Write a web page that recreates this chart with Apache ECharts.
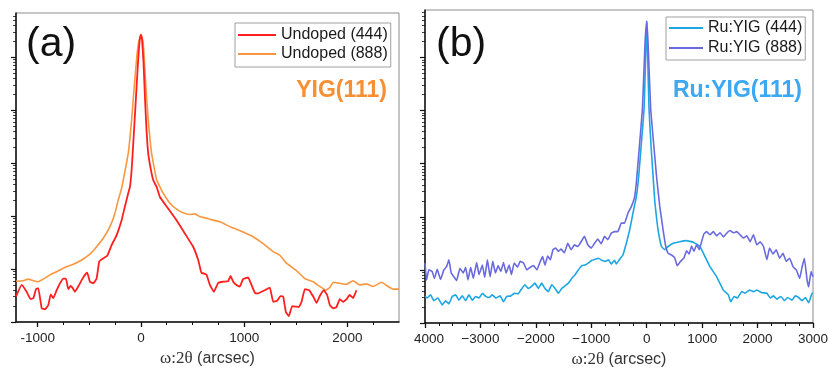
<!DOCTYPE html>
<html>
<head>
<meta charset="utf-8">
<script src="https://cdn.jsdelivr.net/npm/echarts@6/dist/echarts.min.js"></script>
<style>
  html, body { margin: 0; padding: 0; background: #fff; }
  #wrap { position: relative; width: 828px; height: 369px; }
  .panel { position: absolute; top: 0; width: 414px; height: 369px; overflow: hidden; }
  #panelA { left: 0; }
  #panelB { left: 414px; }
</style>
</head>
<body>
<div id="wrap">
  <div id="panelA" class="panel"></div>
  <div id="panelB" class="panel"></div>
</div>
<script>
// ω:2θ scans, intensity stored as log10(counts): [arcsec, log10 I]
const undoped444 = [[-1210,0.48],[-1155,0.70],[-1107,0.57],[-1068,0.43],[-1042,0.45],[-1016,0.62],[-994,0.64],[-961,0.26],[-929,0.24],[-897,0.32],[-874,0.52],[-849,0.45],[-816,0.60],[-784,0.73],[-752,0.82],[-726,0.82],[-704,0.62],[-681,0.68],[-661,0.64],[-639,0.57],[-607,0.67],[-574,0.79],[-542,0.89],[-520,0.93],[-494,0.76],[-462,0.73],[-429,0.82],[-404,1.14],[-365,1.20],[-326,1.25],[-284,1.45],[-235,1.64],[-187,1.92],[-155,2.18],[-123,2.43],[-106,2.55],[-90,2.87],[-80,3.18],[-58,3.90],[-42,4.44],[-25,5.00],[-10,5.35],[0,5.42],[10,5.35],[25,4.90],[40,4.20],[55,3.60],[71,3.18],[97,2.87],[119,2.68],[152,2.55],[184,2.36],[249,2.18],[345,1.92],[426,1.67],[506,1.42],[555,1.17],[571,1.04],[587,0.92],[603,0.92],[636,0.89],[668,0.70],[707,0.57],[749,0.74],[797,0.76],[845,0.77],[868,0.87],[894,0.76],[926,0.70],[958,0.67],[990,0.81],[1039,0.84],[1071,0.70],[1104,0.55],[1136,0.54],[1168,0.57],[1200,0.60],[1249,0.65],[1281,0.38],[1320,0.40],[1352,0.49],[1378,0.48],[1404,0.19],[1433,0.11],[1465,0.30],[1498,0.29],[1530,0.28],[1556,0.38],[1588,0.62],[1630,0.60],[1669,0.48],[1701,0.36],[1733,0.49],[1772,0.60],[1804,0.51],[1830,0.32],[1862,0.26],[1894,0.28],[1926,0.43],[1959,0.38],[1991,0.43],[2023,0.51],[2055,0.45],[2088,0.60]];

const undoped888 = [[-1210,0.77],[-1139,0.78],[-1091,0.81],[-1042,0.78],[-994,0.76],[-946,0.81],[-881,0.89],[-816,0.95],[-736,1.03],[-655,1.09],[-574,1.17],[-494,1.28],[-429,1.42],[-365,1.58],[-300,1.80],[-252,2.05],[-220,2.30],[-190,2.50],[-171,2.68],[-123,3.18],[-90,3.81],[-65,4.44],[-40,5.00],[-20,5.30],[0,5.43],[20,5.30],[35,4.90],[48,4.44],[71,3.81],[104,3.18],[152,2.68],[184,2.55],[216,2.43],[281,2.24],[345,2.13],[410,2.06],[474,2.03],[523,2.04],[571,1.99],[668,1.94],[765,1.89],[862,1.80],[990,1.70],[1087,1.61],[1184,1.48],[1281,1.33],[1346,1.26],[1410,1.11],[1507,0.97],[1588,0.82],[1669,0.76],[1733,0.67],[1791,0.60],[1830,0.65],[1862,0.75],[1926,0.73],[1991,0.71],[2055,0.78],[2120,0.70],[2185,0.72],[2249,0.67],[2330,0.75],[2394,0.67],[2443,0.62],[2500,0.62]];

const ruyig444 = [[-4000,0.50],[-3962,0.47],[-3901,0.53],[-3841,0.42],[-3768,0.47],[-3690,0.34],[-3630,0.42],[-3569,0.36],[-3509,0.50],[-3448,0.53],[-3388,0.43],[-3327,0.51],[-3267,0.42],[-3207,0.53],[-3146,0.43],[-3086,0.50],[-3025,0.47],[-2965,0.56],[-2904,0.50],[-2844,0.48],[-2784,0.53],[-2723,0.47],[-2645,0.51],[-2584,0.40],[-2524,0.50],[-2452,0.51],[-2391,0.56],[-2319,0.55],[-2259,0.64],[-2198,0.72],[-2138,0.65],[-2077,0.69],[-2017,0.75],[-1957,0.65],[-1896,0.75],[-1836,0.65],[-1775,0.59],[-1715,0.72],[-1654,0.65],[-1594,0.56],[-1534,0.65],[-1473,0.70],[-1413,0.75],[-1352,0.84],[-1292,0.91],[-1232,1.00],[-1172,1.08],[-1111,1.09],[-1051,1.13],[-991,1.18],[-930,1.20],[-870,1.22],[-810,1.18],[-749,1.16],[-688,1.19],[-640,1.11],[-580,1.18],[-549,1.11],[-489,1.20],[-429,1.28],[-368,1.50],[-308,1.75],[-248,2.07],[-187,2.38],[-145,2.76],[-95,3.40],[-48,4.02],[-22,4.90],[0,5.68],[20,4.90],[42,4.02],[80,3.30],[115,2.76],[145,2.30],[175,2.00],[205,1.75],[266,1.44],[326,1.38],[386,1.44],[477,1.50],[598,1.53],[719,1.55],[839,1.52],[960,1.44],[1051,1.25],[1141,1.06],[1262,0.87],[1383,0.62],[1473,0.53],[1516,0.40],[1576,0.50],[1636,0.47],[1715,0.59],[1775,0.56],[1854,0.62],[1926,0.59],[1987,0.62],[2077,0.57],[2168,0.56],[2228,0.47],[2288,0.51],[2349,0.45],[2422,0.50],[2482,0.42],[2542,0.48],[2621,0.43],[2681,0.51],[2741,0.48],[2802,0.42],[2862,0.48],[2922,0.38],[2983,0.56],[3000,0.56]];

const ruyig888 = [[-4000,1.13],[-3973,0.81],[-3931,1.00],[-3871,0.97],[-3829,0.84],[-3780,1.01],[-3720,0.82],[-3659,1.00],[-3611,1.06],[-3569,1.19],[-3527,0.94],[-3478,0.87],[-3430,0.80],[-3370,1.03],[-3310,0.94],[-3267,1.05],[-3225,0.81],[-3176,1.05],[-3128,0.84],[-3068,1.14],[-3025,0.91],[-2965,1.09],[-2923,0.86],[-2874,1.19],[-2826,0.87],[-2777,1.16],[-2729,0.94],[-2681,1.08],[-2632,0.97],[-2584,1.14],[-2536,0.94],[-2482,1.09],[-2440,0.91],[-2391,1.13],[-2331,1.05],[-2283,1.16],[-2222,1.13],[-2162,1.00],[-2101,1.05],[-2041,1.08],[-1981,1.00],[-1920,1.16],[-1878,1.25],[-1836,1.09],[-1787,1.26],[-1739,1.19],[-1691,1.38],[-1642,1.41],[-1594,1.35],[-1546,1.39],[-1486,1.32],[-1425,1.50],[-1364,1.38],[-1304,1.47],[-1244,1.44],[-1183,1.53],[-1123,1.63],[-1063,1.47],[-1002,1.41],[-942,1.50],[-882,1.58],[-821,1.49],[-761,1.63],[-701,1.57],[-640,1.69],[-580,1.72],[-520,1.72],[-459,1.88],[-399,1.88],[-338,2.07],[-278,2.19],[-217,2.38],[-180,2.73],[-78,4.02],[-30,5.28],[0,5.68],[24,5.28],[72,4.02],[180,2.73],[236,2.19],[296,1.75],[344,1.44],[386,1.31],[447,1.28],[507,1.22],[549,1.08],[610,1.16],[670,1.22],[719,1.36],[767,1.30],[809,1.45],[851,1.35],[900,1.47],[948,1.38],[990,1.53],[1033,1.68],[1081,1.72],[1141,1.66],[1202,1.72],[1262,1.64],[1322,1.70],[1383,1.62],[1443,1.69],[1504,1.74],[1564,1.70],[1624,1.72],[1685,1.66],[1745,1.60],[1806,1.64],[1866,1.53],[1926,1.66],[1987,1.47],[2047,1.53],[2107,1.44],[2168,1.19],[2216,1.41],[2277,1.30],[2337,1.38],[2397,1.22],[2458,1.31],[2518,1.16],[2578,1.22],[2639,1.06],[2699,1.00],[2760,0.84],[2802,1.05],[2844,1.22],[2893,0.81],[2922,0.68],[2965,0.97],[3000,0.87]];

// axis tick values
const xMajorA = [-1000, 0, 1000, 2000];
const xMinorA = [-750, -500, -250, 250, 500, 750, 1250, 1500, 1750, 2250];
const xMajorB = [-4000, -3000, -2000, -1000, 0, 1000, 2000, 3000];
const xMinorB = [-3750, -3500, -3250, -2750, -2500, -2250, -1750, -1500, -1250, -750, -500, -250,
                 250, 500, 750, 1250, 1500, 1750, 2250, 2500, 2750];
const yDecades = [1, 10, 100, 1000, 10000, 100000];
const yMinor = [2,3,4,5,6,7,8,9, 20,30,40,50,60,70,80,90, 200,300,400,500,600,700,800,900,
                2000,3000,4000,5000,6000,7000,8000,9000, 20000,30000,40000,50000,60000,70000,80000,90000,
                200000,300000,400000,500000,600000,700000];

const SANS = '"Liberation Sans", Arial, Helvetica, sans-serif';
const SERIF = '"Liberation Serif", "Times New Roman", serif';

const toCounts = pts => pts.map(p => [p[0], Math.pow(10, p[1])]);

function buildOption(cfg) {
  const axisLineStyle = { color: '#111', width: 1.5 };
  return {
    animation: false,
    grid: {
      left: cfg.grid[0], top: cfg.grid[1], right: cfg.grid[2], bottom: cfg.grid[3],
      outerBoundsMode: 'none', containLabel: false,
      show: true, borderColor: '#8c8c8c', borderWidth: 1, backgroundColor: 'transparent'
    },
    legend: {
      data: cfg.series.map(s => s.name),
      orient: 'vertical',
      left: cfg.legendPos[0], top: cfg.legendPos[1],
      icon: 'rect',
      itemWidth: cfg.legendItemWidth, itemHeight: 2, itemGap: cfg.legendGap,
      padding: cfg.legendPad,
      borderColor: '#a0a0a0', borderWidth: 1, borderRadius: 0,
      backgroundColor: '#fff',
      textStyle: { fontFamily: SANS, fontSize: 16, color: '#1a1a1a' }
    },
    xAxis: [
      {
        type: 'value', min: cfg.xRange[0], max: cfg.xRange[1],
        axisLine: { show: true, onZero: false, lineStyle: axisLineStyle },
        axisTick: { show: true, inside: false, length: 5, customValues: cfg.xMajor, lineStyle: { color: '#111', width: 1.3 } },
        axisLabel: { customValues: cfg.xMajor, margin: 9, fontFamily: SANS, fontSize: 13.5, color: '#222',
                     hideOverlap: false,
                     formatter: v => (v < 0 ? cfg.minus : '') + Math.abs(v) },
        splitLine: { show: false },
        name: '{g|ω:2θ} (arcsec)', nameLocation: 'middle', nameGap: 28,
        nameTextStyle: { fontFamily: SANS, fontSize: 16, color: '#333',
                         rich: { g: { fontFamily: SERIF, fontSize: 17, color: '#333' } } }
      },
      {
        type: 'value', min: cfg.xRange[0], max: cfg.xRange[1], position: 'bottom',
        axisLine: { show: false, onZero: false },
        axisTick: { show: true, length: 3, customValues: cfg.xMinor, lineStyle: { color: '#111', width: 1 } },
        axisLabel: { show: false }, splitLine: { show: false }
      }
    ],
    yAxis: [
      {
        type: 'log', logBase: 10, min: 1, max: cfg.yMax, position: 'left',
        axisLine: { show: true, onZero: false, lineStyle: axisLineStyle },
        axisTick: { show: true, length: 5, customValues: yDecades, lineStyle: { color: '#111', width: 1.2 } },
        axisLabel: { show: false }, splitLine: { show: false }, minorTick: { show: false }
      },
      {
        type: 'log', logBase: 10, min: 1, max: cfg.yMax, position: 'left',
        axisLine: { show: false, onZero: false },
        axisTick: { show: true, length: 3, customValues: yMinor, lineStyle: { color: '#111', width: 0.8 } },
        axisLabel: { show: false }, splitLine: { show: false }
      }
    ],
    graphic: [
      { type: 'text', left: cfg.tagPos[0], top: cfg.tagPos[1],
        style: { text: cfg.tag, fontFamily: SANS, fontSize: 41, fill: '#111' } },
      { type: 'text', right: cfg.titleRight, top: cfg.titleTop,
        style: { text: cfg.title, fontFamily: SANS, fontWeight: 'bold', fontSize: 23, fill: cfg.titleColor } }
    ],
    series: cfg.series.map(s => ({
      name: s.name, type: 'line', xAxisIndex: 0, yAxisIndex: 0,
      data: toCounts(s.data), symbol: 'none', showSymbol: false,
      smooth: 0.1, clip: true, z: s.z,
      itemStyle: { color: s.color },
      lineStyle: { color: s.color, width: s.width }
    }))
  };
}

const chartA = echarts.init(document.getElementById('panelA'), null, { renderer: 'canvas' });
chartA.setOption(buildOption({
  grid: [16, 13, 15, 47],
  xRange: [-1210, 2500], xMajor: xMajorA, xMinor: xMinorA, minus: '-',
  yMax: 680000,
  legendPos: [235, 23], legendItemWidth: 38, legendGap: 3, legendPad: [4, 3, 5, 3],
  tag: '(a)', tagPos: [26, 24],
  title: 'YIG(111)', titleRight: 27, titleTop: 79, titleColor: '#F78F33',
  series: [
    { name: 'Undoped (444)', data: undoped444, color: '#FF1F1F', width: 1.8, z: 3 },
    { name: 'Undoped (888)', data: undoped888, color: '#F9973F', width: 1.6, z: 2 }
  ]
}));

const chartB = echarts.init(document.getElementById('panelB'), null, { renderer: 'canvas' });
chartB.setOption(buildOption({
  grid: [11, 10, 15, 46],
  xRange: [-4000, 3000], xMajor: xMajorB, xMinor: xMinorB, minus: '\u2212',
  yMax: 780000,
  legendPos: [252, 17], legendItemWidth: 34, legendGap: 4, legendPad: [3, 3, 4, 3],
  tag: '(b)', tagPos: [22, 24],
  title: 'Ru:YIG(111)', titleRight: 26, titleTop: 79, titleColor: '#3AA8F2',
  series: [
    { name: 'Ru:YIG (444)', data: ruyig444, color: '#1DA6E2', width: 1.6, z: 2 },
    { name: 'Ru:YIG (888)', data: ruyig888, color: '#6A6ADF', width: 1.6, z: 3 }
  ]
}));
</script>
</body>
</html>
